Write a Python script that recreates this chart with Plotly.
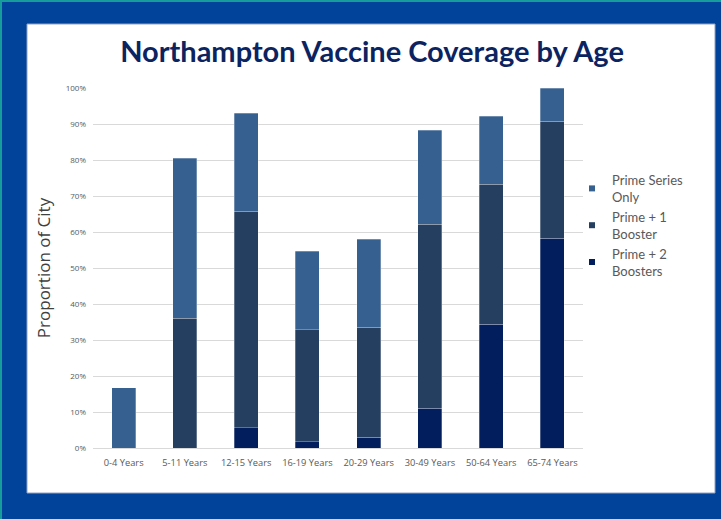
import plotly.graph_objects as go

categories = ["0-4 Years", "5-11 Years", "12-15 Years", "16-19 Years",
              "20-29 Years", "30-49 Years", "50-64 Years", "65-74 Years"]
prime_two_boosters = [0.0, 0.0, 5.6, 1.7, 3.0, 11.1, 34.4, 58.3]
prime_one_booster = [0.0, 36.1, 60.2, 31.1, 30.6, 51.1, 38.9, 32.5]
prime_series_only = [16.7, 44.4, 27.2, 21.9, 24.4, 26.1, 18.9, 9.2]

series_names = ["Prime + 2<br>Boosters", "Prime + 1<br>Booster", "Prime Series<br>Only"]
series_values = [prime_two_boosters, prime_one_booster, prime_series_only]
series_colors = ["#021E5C", "#253F60", "#36608F"]

tick_vals = [0, 10, 20, 30, 40, 50, 60, 70, 80, 90, 100]
tick_text = [f"{v}%" for v in tick_vals]

fig = go.Figure()
for i, (name, vals, col) in enumerate(zip(series_names, series_values, series_colors)):
    fig.add_trace(go.Bar(
        x=categories, y=vals, name=name, legendgroup=f"g{i}", showlegend=False,
        marker=dict(color=col, line=dict(color="rgba(255,255,255,0.35)", width=0.8)),
    ))
# legend entries with small square swatches
for i, (name, col) in enumerate(zip(series_names, series_colors)):
    fig.add_trace(go.Scatter(
        x=[None], y=[None], mode="markers", name=name, legendgroup=f"g{i}",
        marker=dict(symbol="square", size=6, color=col),
    ))

W, H = 721, 519
L, R, T, B = 93, 138, 88, 71
pw, ph = W - L - R, H - T - B

def px_x(p):
    return (p - L) / pw

def px_y(p):
    return (H - B - p) / ph

shapes = [
    dict(type="rect", xref="paper", yref="paper", layer="below",
         x0=px_x(27), x1=px_x(715), y0=px_y(493), y1=px_y(24),
         fillcolor="white", line=dict(color="#8FA3C4", width=1)),
    dict(type="rect", xref="paper", yref="paper", layer="below",
         x0=px_x(0), x1=px_x(721), y0=px_y(2), y1=px_y(0),
         fillcolor="#169C9A", line=dict(width=0)),
    dict(type="rect", xref="paper", yref="paper", layer="below",
         x0=px_x(0), x1=px_x(2), y0=px_y(519), y1=px_y(0),
         fillcolor="#169C9A", line=dict(width=0)),
]

fig.update_layout(
    width=W, height=H,
    margin=dict(l=L, r=R, t=T, b=B),
    paper_bgcolor="#01439A",
    plot_bgcolor="white",
    barmode="stack",
    bargap=0.61,
    shapes=shapes,
    title=dict(text="<b>Northampton Vaccine Coverage by Age</b>",
               x=372 / W, xanchor="center", y=1 - 52 / H, yanchor="middle",
               font=dict(family="Lato", size=29, color="#0B2461")),
    legend=dict(x=px_x(572), xanchor="left", y=px_y(165), yanchor="top",
                traceorder="reversed", bgcolor="rgba(0,0,0,0)",
                font=dict(family="Lato", size=13, color="#595959"),
                itemwidth=30, tracegroupgap=5),
    font=dict(family="Open Sans", color="#595959"),
)
fig.update_yaxes(range=[0, 100], tickvals=tick_vals, ticktext=tick_text,
                 tickfont=dict(size=8, color="#595959"),
                 gridcolor="#D9D9D9", gridwidth=1, zeroline=False,
                 showline=False, ticks="", ticklabelstandoff=6,
                 title=dict(text="Proportion of City",
                            font=dict(family="Open Sans", size=17, color="#404040"),
                            standoff=10))
fig.update_xaxes(tickfont=dict(size=9.3, color="#595959"),
                 showline=True, linecolor="#D9D9D9", linewidth=1,
                 ticks="", showgrid=False, ticklabelstandoff=6)

fig.write_html("out.html", config={"displayModeBar": False},
               post_script="document.body.style.margin='0';document.body.style.overflow='hidden';")
